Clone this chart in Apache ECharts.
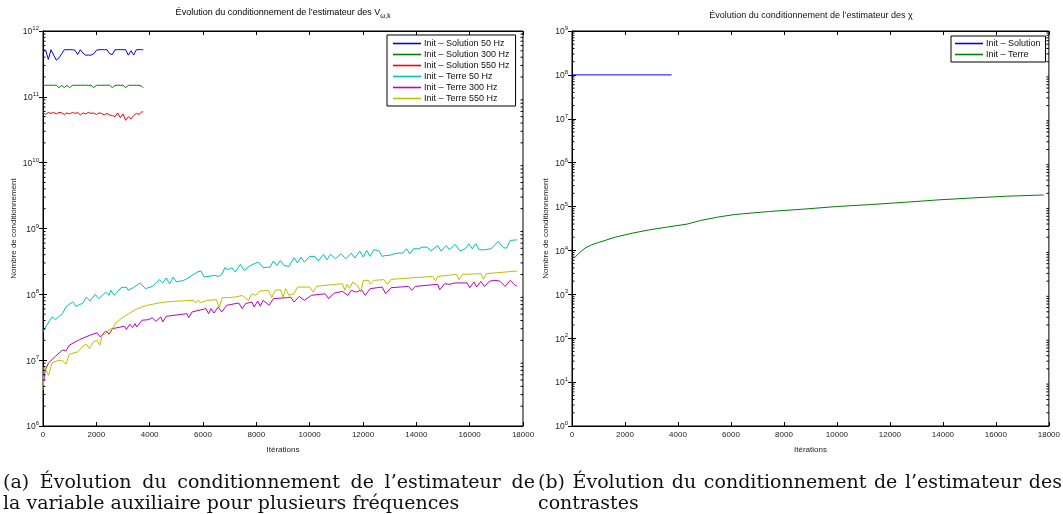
<!DOCTYPE html>
<html><head><meta charset="utf-8">
<script src="https://cdn.jsdelivr.net/npm/echarts@6/dist/echarts.min.js"></script>
<style>
html,body{margin:0;padding:0;background:#fff;}
#chart{position:absolute;left:0;top:0;width:1063px;height:514px;}
.cap{position:absolute;font-family:"DejaVu Serif",serif;font-size:19px;line-height:21px;color:#111;white-space:nowrap;}
.just{text-align:justify;text-align-last:justify;}
</style></head><body>
<div id="chart"></div>
<div class="cap just" style="left:3px;top:471px;width:532px;">(a) Évolution du conditionnement de l’estimateur de</div>
<div class="cap" style="left:3px;top:492px;">la variable auxiliaire pour plusieurs fréquences</div>
<div class="cap just" style="left:538px;top:471px;width:524px;">(b) Évolution du conditionnement de l’estimateur des</div>
<div class="cap" style="left:538px;top:492px;">contrastes</div>
<script>
// ---------- DATA ----------
const xTicks = [0,2000,4000,6000,8000,10000,12000,14000,16000,18000];
const namesA = ['Init – Solution 50 Hz','Init – Solution 300 Hz','Init – Solution 550 Hz','Init – Terre 50 Hz','Init – Terre 300 Hz','Init – Terre 550 Hz'];
const namesB = ['Init – Solution','Init – Terre'];

const solIter = [0,100,200,300,400,500,600,700,800,900,1000,1100,1200,1300,1400,1500,1600,1700,1800,1900,2000,2100,2200,2300,2400,2500,2600,2700,2800,2900,3000,3100,3200,3300,3400,3500,3600,3700,3760];
const sol50 = [5.2e11,5.1e11,3.7e11,5.2e11,4.3e11,3.6e11,3.9e11,4.5e11,5.2e11,5.2e11,5.2e11,5.2e11,5.1e11,4.4e11,5.2e11,4.6e11,4.3e11,4.3e11,4.3e11,4.5e11,5.1e11,5.2e11,5.2e11,5.2e11,5.2e11,4.5e11,4.4e11,5.2e11,5.2e11,5.2e11,5.2e11,5.2e11,4.3e11,5.0e11,4.3e11,5.2e11,5.2e11,5.2e11,5.2e11];
const sol300 = [1.5e11,1.5e11,1.5e11,1.5e11,1.5e11,1.5e11,1.38e11,1.49e11,1.38e11,1.49e11,1.38e11,1.49e11,1.5e11,1.5e11,1.5e11,1.5e11,1.5e11,1.5e11,1.5e11,1.38e11,1.49e11,1.5e11,1.5e11,1.5e11,1.5e11,1.5e11,1.38e11,1.49e11,1.5e11,1.5e11,1.5e11,1.38e11,1.49e11,1.5e11,1.5e11,1.5e11,1.5e11,1.45e11,1.37e11];
const sol550 = [5.8e10,5.4e10,5.8e10,5.6e10,5.8e10,5.5e10,5.8e10,5.7e10,5.4e10,5.7e10,5.5e10,5.8e10,5.6e10,5.8e10,5.3e10,5.7e10,5.5e10,5.8e10,5.6e10,5.7e10,5.4e10,5.7e10,5.6e10,5.3e10,5.6e10,5.3e10,5.2e10,5.0e10,5.7e10,4.8e10,5.5e10,4.4e10,5.0e10,4.6e10,5.2e10,5.6e10,5.4e10,5.9e10,5.9e10];

const terre50 = [[0,2.68e7],[140,3.39e7],[340,4.54e7],[470,4.13e7],[730,5.09e7],[860,6.43e7],[1115,7.66e7],[1245,6.58e7],[1500,7.39e7],[1630,9.11e7],[1760,7.93e7],[1960,1.0e8],[2090,8.6e7],[2350,1.08e8],[2480,9.66e7],[2540,1.15e8],[2670,9.66e7],[2930,1.26e8],[3125,1.29e8],[3190,1.15e8],[3385,1.26e8],[3645,1.49e8],[3840,1.22e8],[4100,1.32e8],[4360,1.67e8],[4490,1.49e8],[4620,1.77e8],[4750,1.45e8],[4880,1.83e8],[5010,1.54e8],[5270,1.63e8],[5400,1.73e8],[5790,2.18e8],[5920,2.26e8],[6045,1.83e8],[6440,1.94e8],[6570,1.87e8],[6700,1.99e8],[6820,2.54e8],[6950,2.37e8],[7080,2.54e8],[7210,2.18e8],[7400,2.85e8],[7540,2.31e8],[7730,2.66e8],[7920,2.92e8],[8090,3.09e8],[8250,2.54e8],[8510,2.59e8],[8640,3.2e8],[8770,2.75e8],[8900,3.27e8],[9030,2.75e8],[9220,2.66e8],[9415,3.59e8],[9545,2.99e8],[9675,3.68e8],[9800,3.09e8],[10000,3.77e8],[10195,3.77e8],[10325,3.2e8],[10520,4.04e8],[10650,3.35e8],[10780,4.04e8],[10970,3.47e8],[11170,4.13e8],[11360,3.47e8],[11560,4.23e8],[11690,3.55e8],[11880,4.54e8],[12010,3.68e8],[12140,4.64e8],[12270,3.77e8],[12400,4.75e8],[12590,4.64e8],[12720,3.77e8],[12850,3.9e8],[12980,3.9e8],[13180,4.13e8],[13310,4.23e8],[13500,4.23e8],[13630,4.92e8],[13760,4.13e8],[13890,4.92e8],[14090,4.92e8],[14215,5.21e8],[14410,5.21e8],[14540,4.54e8],[14800,5.52e8],[14930,4.54e8],[15120,5.52e8],[15250,4.75e8],[15450,5.73e8],[15640,4.54e8],[15840,4.92e8],[15970,5.86e8],[16100,4.92e8],[16230,5.86e8],[16360,4.75e8],[16550,4.75e8],[16810,4.92e8],[17070,6.35e8],[17260,5.09e8],[17390,5.04e8],[17520,6.58e8],[17780,6.73e8]];

const terre300 = [[0,3.95e6],[80,7.05e6],[210,9.1e6],[470,1.15e7],[730,1.42e7],[860,1.38e7],[985,1.69e7],[1375,2.06e7],[1760,2.39e7],[2020,2.6e7],[2150,2.26e7],[2350,2.78e7],[2480,2.48e7],[2610,3.02e7],[3060,3.27e7],[3125,2.92e7],[3255,3.51e7],[3360,3.12e7],[3450,3.59e7],[3515,3.2e7],[3710,4.04e7],[3970,4.13e7],[4100,4.43e7],[4230,3.9e7],[4420,4.54e7],[4490,3.8e7],[4620,4.64e7],[5400,5.09e7],[5460,4.43e7],[5590,5.4e7],[6110,6.07e7],[6210,5.09e7],[6300,6.07e7],[6410,5.2e7],[6570,6.43e7],[6700,5.4e7],[6890,6.81e7],[7340,7.39e7],[7470,6.07e7],[7600,7.23e7],[7830,7.66e7],[7920,6.43e7],[8050,7.93e7],[8150,6.58e7],[8250,8.11e7],[8480,6.81e7],[8640,8.6e7],[9160,8.9e7],[9290,9.1e7],[9415,7.66e7],[9610,9.3e7],[9800,8.11e7],[10065,9.66e7],[10580,1.02e8],[10710,8.6e7],[10910,1.04e8],[11230,1.11e8],[11430,9.66e7],[11560,1.15e8],[11750,1.08e8],[11950,1.17e8],[12080,9.66e7],[12270,1.22e8],[12530,1.26e8],[12720,1.29e8],[12850,1.02e8],[13050,1.26e8],[13700,1.32e8],[13830,1.15e8],[13960,1.32e8],[14800,1.42e8],[14880,1.17e8],[15060,1.45e8],[15250,1.42e8],[15450,1.49e8],[15900,1.49e8],[16000,1.26e8],[16160,1.54e8],[16260,1.29e8],[16420,1.57e8],[16550,1.32e8],[16750,1.59e8],[16940,1.63e8],[17130,1.59e8],[17330,1.32e8],[17520,1.63e8],[17720,1.35e8],[17780,1.35e8]];

const terre550 = [[0,3.5e6],[40,7.9e6],[115,7.5e6],[210,5.9e6],[340,9.1e6],[600,1.0e7],[730,9.8e6],[860,8.7e6],[985,1.23e7],[1310,1.34e7],[1375,1.26e7],[1500,1.65e7],[1630,1.75e7],[1740,1.5e7],[1890,1.9e7],[2020,2.01e7],[2130,1.69e7],[2220,2.39e7],[2350,2.54e7],[2480,2.92e7],[2610,3.02e7],[2700,3.59e7],[2930,4.28e7],[3150,4.9e7],[3320,5.4e7],[3500,5.95e7],[3710,6.43e7],[3900,6.8e7],[4100,7.05e7],[4350,7.4e7],[4620,7.66e7],[4900,7.82e7],[5140,7.93e7],[5660,8.11e7],[5720,7.39e7],[5810,8.11e7],[5920,7.5e7],[6170,8.11e7],[6500,8.3e7],[6610,6.43e7],[6720,8.9e7],[6950,8.9e7],[7020,8.3e7],[7210,9.1e7],[7470,9.6e7],[7540,1.0e8],[7710,8.11e7],[7830,1.02e8],[7970,9.66e7],[8120,1.12e8],[8450,1.15e8],[8580,8.9e7],[8700,1.15e8],[8900,1.18e8],[9000,9.1e7],[9100,1.22e8],[9220,9.66e7],[9415,1.02e8],[9545,1.29e8],[10000,1.29e8],[10130,1.08e8],[10260,1.32e8],[10580,1.37e8],[11230,1.45e8],[11320,1.15e8],[11400,1.42e8],[11490,1.23e8],[11620,1.54e8],[11820,1.32e8],[11920,1.08e8],[12010,1.63e8],[12200,1.63e8],[12270,1.42e8],[12400,1.63e8],[12790,1.67e8],[12920,1.42e8],[13050,1.69e8],[14610,1.87e8],[14720,1.59e8],[14800,1.87e8],[15510,2.01e8],[15600,1.67e8],[15730,2.01e8],[16420,2.06e8],[16520,1.69e8],[16620,2.06e8],[17780,2.26e8]];

const chiSolution = [[0,1e8],[3760,1e8]];
const chiTerre = [[0,7.05e3],[100,6.9e3],[295,9.0e3],[490,1.13e4],[745,1.35e4],[1000,1.52e4],[1640,2.01e4],[2280,2.48e4],[2925,2.95e4],[3570,3.39e4],[4340,3.98e4],[4850,4.81e4],[5490,5.73e4],[6130,6.58e4],[7420,7.7e4],[8700,8.7e4],[9980,1.0e5],[11260,1.11e5],[12550,1.25e5],[13830,1.42e5],[15110,1.57e5],[16400,1.72e5],[17810,1.84e5]];

const colorsA = ['#0000ff','#008000','#ff0000','#00bfbf','#bf00bf','#bfbf00'];
const colorsB = ['#0000ff','#008000'];

// ---------- CHART ----------
const FONT = '"Liberation Sans", Arial, Helvetica, sans-serif';
const pairs = (xs, ys) => xs.map((x, i) => [x, ys[i]]);
function minors(lo, hi) { const out = []; for (let e = lo; e < hi; e++) for (let k = 2; k <= 9; k++) out.push([0, k * Math.pow(10, e)]); return out; }
const supFmt = v => '{b|10}{s|' + Math.round(Math.log10(v)) + '}';
const supRich = { b: { fontSize: 8.5, fontFamily: FONT, color: '#222', verticalAlign: 'bottom' }, s: { fontSize: 6, fontFamily: FONT, color: '#222', verticalAlign: 'bottom', padding: [0, 0, 5, 0] } };

const G = [{ left: 43, right: 540, top: 31, bottom: 88 }, { left: 572, right: 12, top: 31, bottom: 88 }];
const grid = G.map(g => Object.assign({ show: true, borderColor: '#000', borderWidth: 1, backgroundColor: '#fff', containLabel: false }, g));

const xAxis = [], yAxis = [];
const yRanges = [[1e6, 1e12, 6, 12], [1, 1e9, 0, 9]];
const yNameGap = [25, 22];
[0, 1].forEach(gi => {
  xAxis.push({ type: 'value', gridIndex: gi, min: 0, max: 18000, interval: 2000, position: 'bottom',
    name: 'Itérations', nameLocation: 'middle', nameGap: 20,
    nameTextStyle: { fontSize: 8, fontFamily: FONT, color: '#222' },
    axisLine: { show: true, lineStyle: { color: '#000', width: 1 } },
    axisTick: { show: true, inside: true, length: 4, lineStyle: { color: '#000' } },
    axisLabel: { show: true, fontSize: 8, fontFamily: FONT, color: '#222', margin: 5, formatter: v => String(v) },
    splitLine: { show: false } });
  xAxis.push({ type: 'value', gridIndex: gi, min: 0, max: 18000, interval: 2000, position: 'top',
    axisLine: { show: true, lineStyle: { color: '#000', width: 1 } },
    axisTick: { show: true, inside: true, length: 4, lineStyle: { color: '#000' } },
    axisLabel: { show: false }, splitLine: { show: false } });
  const r = yRanges[gi];
  yAxis.push({ type: 'log', logBase: 10, gridIndex: gi, min: r[0], max: r[1], interval: 1, position: 'left',
    name: 'Nombre de conditionnement', nameLocation: 'middle', nameGap: yNameGap[gi], nameRotate: 90,
    nameTextStyle: { fontSize: 8, fontFamily: FONT, color: '#222' },
    axisLine: { show: true, lineStyle: { color: '#000', width: 1 } },
    axisTick: { show: true, inside: true, length: 4, lineStyle: { color: '#000' } },
    axisLabel: { show: true, margin: 4, formatter: supFmt, rich: supRich },
    splitLine: { show: false } });
  yAxis.push({ type: 'log', logBase: 10, gridIndex: gi, min: r[0], max: r[1], interval: 1, position: 'right',
    axisLine: { show: true, lineStyle: { color: '#000', width: 1 } },
    axisTick: { show: true, inside: true, length: 4, lineStyle: { color: '#000' } },
    axisLabel: { show: false }, splitLine: { show: false } });
});

function lineSeries(name, data, color, gi) {
  return { type: 'line', name, data, xAxisIndex: gi * 2, yAxisIndex: gi * 2, showSymbol: false, symbol: 'none',
    lineStyle: { color, width: 1 }, itemStyle: { color }, animation: false, silent: true, clip: true, z: 3 };
}
function minorSeries(gi) {
  const r = yRanges[gi];
  return { type: 'custom', xAxisIndex: gi * 2, yAxisIndex: gi * 2, silent: true, animation: false, z: 4,
    data: minors(r[2], r[3]), encode: { x: 0, y: 1 },
    renderItem: (params, api) => {
      const v = api.value(1);
      const a = api.coord([0, v]);
      const b = api.coord([18000, v]);
      return { type: 'group', children: [
        { type: 'line', shape: { x1: a[0], y1: a[1], x2: a[0] + 2.5, y2: a[1] }, style: { stroke: '#000', lineWidth: 1 } },
        { type: 'line', shape: { x1: b[0] - 2.5, y1: b[1], x2: b[0], y2: b[1] }, style: { stroke: '#000', lineWidth: 1 } }
      ] };
    } };
}

const series = [
  lineSeries(namesA[0], pairs(solIter, sol50), colorsA[0], 0),
  lineSeries(namesA[1], pairs(solIter, sol300), colorsA[1], 0),
  lineSeries(namesA[2], pairs(solIter, sol550), colorsA[2], 0),
  lineSeries(namesA[3], terre50, colorsA[3], 0),
  lineSeries(namesA[4], terre300, colorsA[4], 0),
  lineSeries(namesA[5], terre550, colorsA[5], 0),
  lineSeries(namesB[0], chiSolution, colorsB[0], 1),
  lineSeries(namesB[1], chiTerre, colorsB[1], 1),
  minorSeries(0), minorSeries(1)
];

const legendCommon = { orient: 'vertical', icon: 'rect', itemWidth: 28, itemHeight: 1.6, itemGap: 0,
  backgroundColor: '#fff', borderColor: '#000', borderWidth: 1, borderRadius: 0, selectedMode: false, z: 10,
  textStyle: { fontSize: 9, fontFamily: FONT, color: '#111', lineHeight: 11, padding: [0, 0, 0, -2] } };
const legend = [
  Object.assign({}, legendCommon, { data: namesA, left: 387, top: 35, padding: [3, 6, 2, 6] }),
  Object.assign({}, legendCommon, { data: namesB, left: 951, top: 36, padding: [2, 5, 2, 4] })
];

const titleRich = { t: { fontSize: 9, fontFamily: FONT, color: '#111', verticalAlign: 'bottom', padding: [0, 0, 3, 0] },
                    s: { fontSize: 6.5, fontFamily: FONT, color: '#111', verticalAlign: 'bottom' } };
const graphic = [
  { type: 'text', x: 283, y: 14, silent: true,
    style: { text: '{t|Évolution du conditionnement de l’estimateur des V}{s|ω,k}', rich: titleRich, align: 'center', verticalAlign: 'middle' } },
  { type: 'text', x: 811, y: 16, silent: true,
    style: { text: 'Évolution du conditionnement de l’estimateur des χ', fontSize: 9, fontFamily: FONT, fill: '#111', align: 'center', verticalAlign: 'middle' } }
];

const chart = echarts.init(document.getElementById('chart'), null, { renderer: 'canvas' });
chart.setOption({ animation: false, backgroundColor: '#fff', grid, xAxis, yAxis, series, legend, graphic });
</script>
</body></html>
